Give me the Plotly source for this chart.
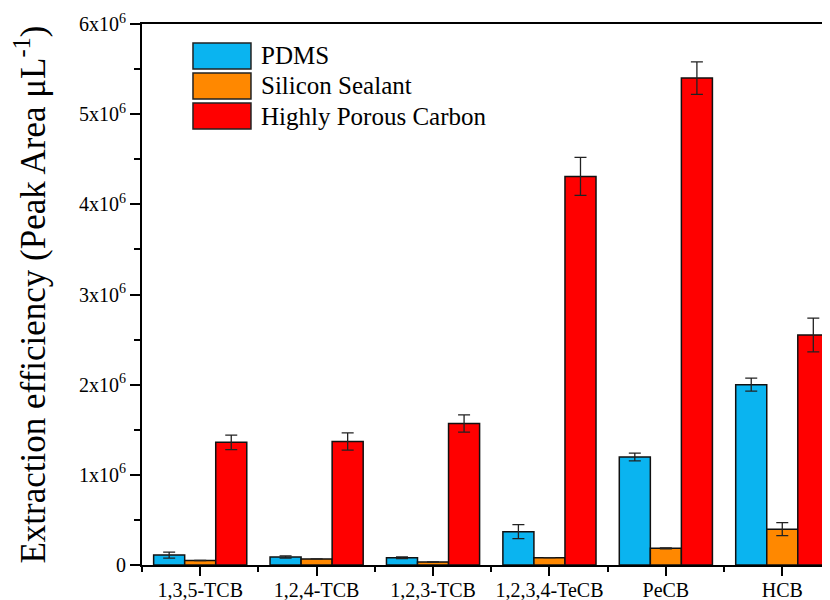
import plotly.graph_objects as go

categories = ["1,3,5-TCB", "1,2,4-TCB", "1,2,3-TCB", "1,2,3,4-TeCB", "PeCB", "HCB"]
series_names = ["PDMS", "Silicon Sealant", "Highly Porous Carbon"]
pdms = [0.11e6, 0.089e6, 0.081e6, 0.37e6, 1.197e6, 2.0e6]
pdms_err = [0.033e6, 0.012e6, 0.01e6, 0.078e6, 0.043e6, 0.072e6]
sealant = [0.05e6, 0.067e6, 0.033e6, 0.081e6, 0.185e6, 0.397e6]
sealant_err = [0.0, 0.0, 0.0, 0.0, 0.006e6, 0.072e6]
carbon = [1.36e6, 1.37e6, 1.57e6, 4.31e6, 5.40e6, 2.55e6]
carbon_err = [0.08e6, 0.096e6, 0.096e6, 0.21e6, 0.18e6, 0.187e6]
y_tickvals = [0, 1e6, 2e6, 3e6, 4e6, 5e6, 6e6]
y_ticktext = ["0", "1x10<sup>6</sup>", "2x10<sup>6</sup>", "3x10<sup>6</sup>",
              "4x10<sup>6</sup>", "5x10<sup>6</sup>", "6x10<sup>6</sup>"]

colors = ["#0AB4F0", "#FF8800", "#FF0000"]
FONT = "Liberation Serif, Times New Roman, serif"

xs = list(range(len(categories)))
fig = go.Figure()
for name, vals, errs, col in zip(series_names, [pdms, sealant, carbon],
                                  [pdms_err, sealant_err, carbon_err], colors):
    fig.add_trace(go.Bar(
        x=xs, y=vals, name=name, showlegend=False,
        marker=dict(color=col, line=dict(color="#111111", width=1.5)),
        error_y=dict(type="data", array=errs, visible=True,
                     color="#222222", thickness=1.3, width=6),
    ))

# custom legend with large swatches
leg_x0, leg_x1, leg_tx = 0.0741, 0.1584, 0.170
leg_top, sw_h, pitch = 0.9649, 0.048, 0.0555
for i, (name, col) in enumerate(zip(series_names, colors)):
    top = leg_top - i * pitch
    fig.add_shape(type="rect", xref="paper", yref="paper",
                  x0=leg_x0, x1=leg_x1, y0=top - sw_h, y1=top,
                  fillcolor=col, line=dict(color="#222222", width=1.5))
    fig.add_annotation(xref="paper", yref="paper", x=leg_tx, y=top - sw_h / 2,
                       text=name, showarrow=False, xanchor="left", yanchor="middle",
                       font=dict(family=FONT, size=25, color="black"))

# page body has an 8px margin, so the figure is sized/offset to compensate
fig.update_layout(
    width=822, height=592,
    margin=dict(l=134, r=0, t=16, b=35),
    paper_bgcolor="white", plot_bgcolor="white",
    barmode="group", bargap=0.2, bargroupgap=0,
    font=dict(family=FONT, color="black"),
)
fig.update_xaxes(
    automargin=False,
    range=[-0.5, 5.41], tickmode="array", tickvals=xs, ticktext=categories,
    ticks="outside", ticklen=9, tickwidth=2, tickcolor="black",
    minor=dict(tickmode="linear", tick0=0.5, dtick=1, ticks="outside",
               ticklen=5, tickwidth=2, tickcolor="black"),
    showline=True, linecolor="black", linewidth=2, mirror=True,
    showgrid=False, zeroline=False, ticklabelstandoff=-3,
    tickfont=dict(family=FONT, size=20, color="black"),
)
fig.update_yaxes(
    automargin=False,
    range=[0, 6e6], tickmode="array", tickvals=y_tickvals, ticktext=y_ticktext,
    ticks="outside", ticklen=10, tickwidth=2, tickcolor="black",
    minor=dict(tickmode="linear", tick0=0, dtick=5e5, ticks="outside",
               ticklen=6, tickwidth=2, tickcolor="black"),
    showline=True, linecolor="black", linewidth=2,
    showgrid=False, zeroline=False,
    tickfont=dict(family=FONT, size=20, color="black"),
    title=dict(text="Extraction efficiency (Peak Area \u03bcL<sup>-1</sup>)",
               font=dict(family=FONT, size=35, color="black"), standoff=24),
)

fig.write_html("out.html")
